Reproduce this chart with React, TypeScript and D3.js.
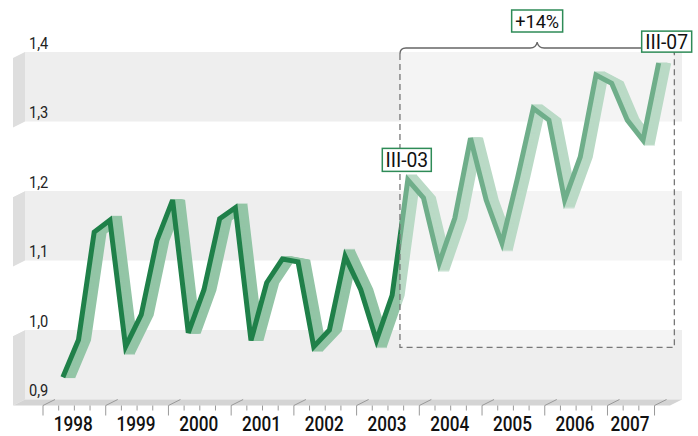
import React from 'react';
import * as d3 from 'd3';

// quarterly index, I-1998 .. III-2007
const years = ['1998', '1999', '2000', '2001', '2002', '2003', '2004', '2005', '2006', '2007'];
const values = [
  0.932, 0.986, 1.141, 1.158,
  0.976, 1.022, 1.129, 1.187,
  0.996, 1.058, 1.16, 1.176,
  0.985, 1.068, 1.102, 1.098,
  0.976, 1.0, 1.106, 1.058,
  0.985, 1.05, 1.216, 1.19,
  1.096, 1.161, 1.276, 1.187,
  1.125, 1.219, 1.319, 1.302,
  1.187, 1.249, 1.367, 1.355,
  1.302, 1.273, 1.384,
];
const yTicks = [0.9, 1.0, 1.1, 1.2, 1.3, 1.4];
const startLabel = 'III-03';
const endLabel = 'III-07';
const changeLabel = '+14%';
const startIdx = 22;

const W = 698;
const H = 436;
const DX = 12; // depth of the 3d box
const DY = 6;
const wallLeft = 55;
const wallRight = 682;
const FONT = 'Roboto, "Liberation Sans", sans-serif';

// condensed-looking text
const CText = ({ x, y, size, sx, anchor = 'middle', weight = 400, fill = '#111', children }: any) => (
  <text
    transform={`translate(${x},${y}) scale(${sx},1)`}
    textAnchor={anchor}
    fontSize={size}
    fontWeight={weight}
    fontFamily={FONT}
    fill={fill}
  >
    {children}
  </text>
);

export default function App() {
  const x = d3.scaleLinear().domain([0, 39]).range([wallLeft, wallLeft + 15.68 * 39]);
  const y = d3.scaleLinear().domain([0.9, 1.4]).range([399.5, 52]);
  const sideX = 25;

  const line = d3
    .line<number>()
    .x((d, i) => x(i + 0.5))
    .y(d => y(d));
  const path = line(values) || '';

  const bands = yTicks.slice(0, -1).map((v, i) => ({ lo: v, hi: yTicks[i + 1], gray: i % 2 === 0 }));

  // highlight box
  const boxL = x(startIdx);
  const boxR = x(39.5);
  const boxT = 48;
  const boxB = y(0.975);
  const mid = (boxL + boxR) / 2;
  const brace = `M${boxL},${boxT + 6} Q${boxL},${boxT} ${boxL + 6},${boxT} L${mid - 7},${boxT} Q${mid - 1},${boxT} ${mid},${boxT - 6} Q${mid + 1},${boxT} ${mid + 7},${boxT} L${boxR - 6},${boxT} Q${boxR},${boxT} ${boxR},${boxT + 6}`;

  const ticks = d3.range(0, 40);
  const offsets = d3.range(1, 11);

  const labelBox = (cx: number, cy: number, w: number, h: number, text: string, size: number, sx: number) => (
    <g>
      <rect x={cx - w / 2} y={cy - h / 2} width={w} height={h} fill="#fff" stroke="#2e8b57" strokeWidth={1.5} />
      <CText x={cx} y={cy + size * 0.36} size={size} sx={sx}>
        {text}
      </CText>
    </g>
  );

  return (
    <svg width={W} height={H} style={{ position: 'absolute', left: 0, top: 0 }}>
      <rect width={W} height={H} fill="#fff" />
      {/* back wall bands */}
      {bands.map((b, i) => (
        <rect
          key={'b' + i}
          x={sideX}
          y={y(b.hi)}
          width={wallRight - sideX}
          height={y(b.lo) - y(b.hi)}
          fill={b.gray ? '#eeeeee' : '#ffffff'}
        />
      ))}
      {/* side wall */}
      {bands.map((b, i) => (
        <polygon
          key={'s' + i}
          points={`${sideX},${y(b.hi)} ${sideX - DX},${y(b.hi) + DY} ${sideX - DX},${y(b.lo) + DY} ${sideX},${y(b.lo)}`}
          fill={b.gray ? '#dedede' : '#ffffff'}
        />
      ))}
      {/* floor */}
      <polygon
        points={`${sideX},${y(0.9)} ${wallRight},${y(0.9)} ${wallRight - DX},${y(0.9) + DY} ${sideX - DX},${y(0.9) + DY}`}
        fill="#d4d4d4"
      />
      {/* ticks */}
      {ticks.map(j => {
        const fx = x(j) - DX;
        const major = j % 4 === 0 || j === 39;
        const base = y(0.9) + DY;
        return (
          <g key={'t' + j} stroke="#999" strokeWidth={1}>
            <line x1={fx} x2={fx} y1={base} y2={base + (major ? 10 : 5)} />
            {major && <line x1={fx} y1={base} x2={fx + DX} y2={y(0.9)} />}
          </g>
        );
      })}
      {years.map((yr, k) => {
        const a = x(k * 4);
        const b = x(Math.min(k * 4 + 4, 39));
        return (
          <CText key={yr} x={(a + b) / 2 - DX - 1} y={431} size={19.5} sx={0.88} weight={500}>
            {yr}
          </CText>
        );
      })}
      {yTicks.map(v => (
        <CText key={'y' + v} x={29} y={y(v) - 3.5} size={17} sx={0.86} anchor="start" fill="#222">
          {v.toFixed(1).replace('.', ',')}
        </CText>
      ))}
      {/* ribbon line */}
      {offsets.map(o => (
        <path
          key={'o' + o}
          d={path}
          transform={`translate(${o},0)`}
          fill="none"
          stroke="#93c5a6"
          strokeWidth={5}
          strokeLinejoin="miter"
        />
      ))}
      <path d={path} fill="none" stroke="#1f8049" strokeWidth={5} strokeLinejoin="miter" />
      {/* highlight */}
      <rect x={boxL} y={boxT} width={boxR - boxL} height={boxB - boxT} fill="#fff" opacity={0.36} />
      <path
        d={`M${boxL},${boxT + 6} L${boxL},${boxB} L${boxR},${boxB} L${boxR},${boxT + 6}`}
        fill="none"
        stroke="#777"
        strokeWidth={1.3}
        strokeDasharray="6,4"
      />
      <path d={brace} fill="none" stroke="#666" strokeWidth={1.3} />
      {labelBox(mid, 21, 51, 22, changeLabel, 18.5, 0.98)}
      {labelBox(x(startIdx + 0.5) - 1, y(values[startIdx]) - 20, 49, 23, startLabel, 21, 0.92)}
      {labelBox(x(values.length - 0.5) + 8, y(values[values.length - 1]) - 21.5, 50, 21, endLabel, 21, 0.92)}
    </svg>
  );
}
